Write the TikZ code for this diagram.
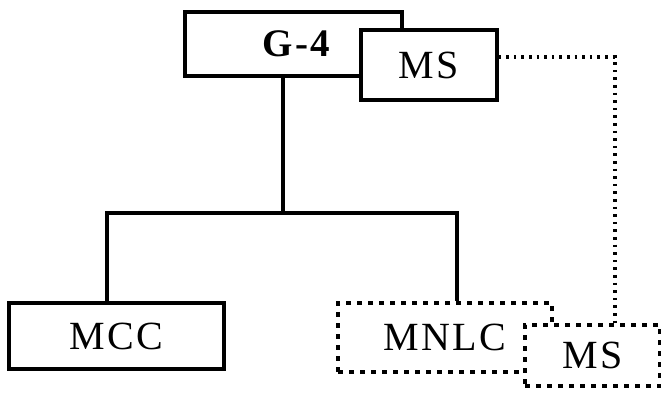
\documentclass[tikz,border=0pt]{standalone}
\usepackage{fontspec}
\setmainfont{Liberation Serif}
\newfontfamily\spacedfont[LetterSpace=6]{Liberation Serif}
\usetikzlibrary{positioning}

\begin{document}
\begin{tikzpicture}[
    x=1pt, y=-1pt,
    box/.style={draw, line width=3.2pt, fill=white, inner sep=0pt,
                font=\spacedfont\fontsize{40}{44}\selectfont},
    dbox/.style={box, dash pattern=on 5pt off 6pt},
    link/.style={line width=3.2pt},
    dotlink/.style={line width=3.2pt, dash pattern=on 2.6pt off 5pt}
  ]
    \useasboundingbox[fill=white] (0,0) rectangle (661,395);
    % top
    \node[box, minimum width=217pt, minimum height=64pt,
          font=\spacedfont\bfseries\fontsize{39}{42}\selectfont] (g4) at (293.5,44) {\hspace*{6pt}G-4};
    \node[box, minimum width=136pt, minimum height=70pt] (ms) at (429,65) {MS};
    % bottom
    \node[box, minimum width=215pt, minimum height=66pt] (mcc) at (116.5,336) {MCC};
    \node[dbox, minimum width=214pt, minimum height=69pt] (mnlc) at (445,337.5) {MNLC};
    \node[dbox, minimum width=135pt, minimum height=61pt] (msb) at (592.5,355.5) {MS};
    \coordinate (fork) at (283,213);
    \draw[link] (fork |- g4.south) -- (fork);
    \draw[link] ([xshift=-9.5pt]mcc.north) |- (fork) -| ([xshift=12pt]mnlc.north);
    \draw[dotlink] ([yshift=8pt]ms.east) -| ([xshift=22.5pt]msb.north);
\end{tikzpicture}
\end{document}
